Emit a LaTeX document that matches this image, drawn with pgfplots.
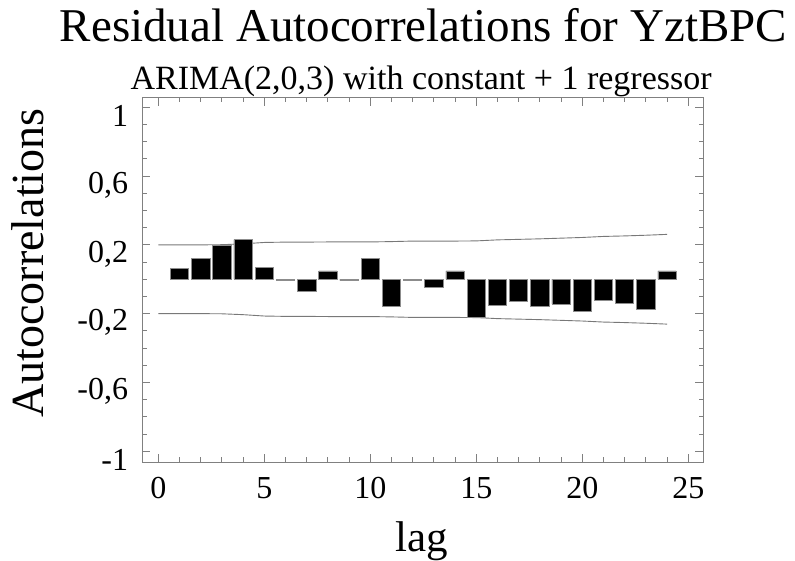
\documentclass[border=0pt]{standalone}
\usepackage{fontspec}
\setmainfont{Liberation Serif}
\usepackage{pgfplots}
\pgfplotsset{compat=1.18}
\definecolor{frame}{RGB}{128,128,128}
\definecolor{band}{RGB}{120,120,120}

\begin{document}
\begin{tikzpicture}
\useasboundingbox (0,0) rectangle (795pt,561pt);
\begin{axis}[
    at={(142.3pt,99pt)}, anchor=south west,
    scale only axis, width=561pt, height=364.3pt,
    xmin=-0.755, xmax=25.71, ymin=-1.063, ymax=1.056,
    xtick={0,5,10,15,20,25},
    xticklabels={0,5,10,15,20,25},
    minor x tick num=4,
    ytick={-1,-0.6,-0.2,0.2,0.6,1},
    yticklabels={-1,{-0,6},{-0,2},{0,2},{0,6},1},
    minor y tick num=3,
    tick align=inside,
    major tick length=8pt, minor tick length=4.5pt,
    axis line style={frame,line width=0.8pt},
    tick style={frame,line width=0.8pt},
    /pgf/number format/assume math mode=true,
    x tick label style={font=\fontsize{32}{38}\selectfont,anchor=north,inner sep=0pt,yshift=-15pt},
    y tick label style={font=\fontsize{32}{38}\selectfont,anchor=east,inner sep=0pt,xshift=-14pt,yshift=-9pt},
    title={Residual Autocorrelations for YztBPC},
    title style={font=\fontsize{47}{56}\selectfont,at={(axis description cs:0.501,1.1384)},anchor=base,inner sep=0pt},
    xlabel={lag},
    xlabel style={font=\fontsize{43}{52}\selectfont,at={(axis description cs:0.4986,-0.2462)},anchor=base,inner sep=0pt},
    ylabel={Autocorrelations},
    ylabel style={font=\fontsize{46}{55}\selectfont,at={(axis description cs:-0.1765,0.546)},anchor=base,rotate=0,inner sep=0pt},
    clip=false,
]
  % confidence band
  \addplot[band,line width=0.9pt] coordinates {
    (0,0.200) (1,0.200) (2,0.200) (3,0.201) (4,0.206) (5,0.214) (6,0.216)
    (7,0.216) (8,0.217) (9,0.217) (10,0.217) (11,0.219) (12,0.222) (13,0.222)
    (14,0.222) (15,0.223) (16,0.229) (17,0.232) (18,0.235) (19,0.239)
    (20,0.243) (21,0.249) (22,0.252) (23,0.256) (24,0.261)};
  \addplot[band,line width=0.9pt] coordinates {
    (0,-0.200) (1,-0.200) (2,-0.200) (3,-0.201) (4,-0.206) (5,-0.214) (6,-0.216)
    (7,-0.216) (8,-0.217) (9,-0.217) (10,-0.217) (11,-0.219) (12,-0.222) (13,-0.222)
    (14,-0.222) (15,-0.223) (16,-0.229) (17,-0.232) (18,-0.235) (19,-0.239)
    (20,-0.243) (21,-0.249) (22,-0.252) (23,-0.256) (24,-0.261)};

  % residual autocorrelations
  \addplot[ybar,bar width=0.86,bar shift=0pt,fill=black,draw=black!45,line width=0.6pt] coordinates {
    (1,0.065) (2,0.12) (3,0.197) (4,0.231) (5,0.071) (6,-0.005) (7,-0.073)
    (8,0.048) (9,-0.008) (10,0.12) (11,-0.16) (12,-0.005) (13,-0.045)
    (14,0.048) (15,-0.22) (16,-0.15) (17,-0.127) (18,-0.156) (19,-0.145)
    (20,-0.185) (21,-0.123) (22,-0.141) (23,-0.177) (24,0.048)};

  \node[font=\fontsize{34}{41}\selectfont,anchor=base,inner sep=0pt]
    at (axis description cs:0.497,1.0231) {ARIMA(2,0,3) with constant + 1 regressor};
\end{axis}
\end{tikzpicture}
\end{document}
